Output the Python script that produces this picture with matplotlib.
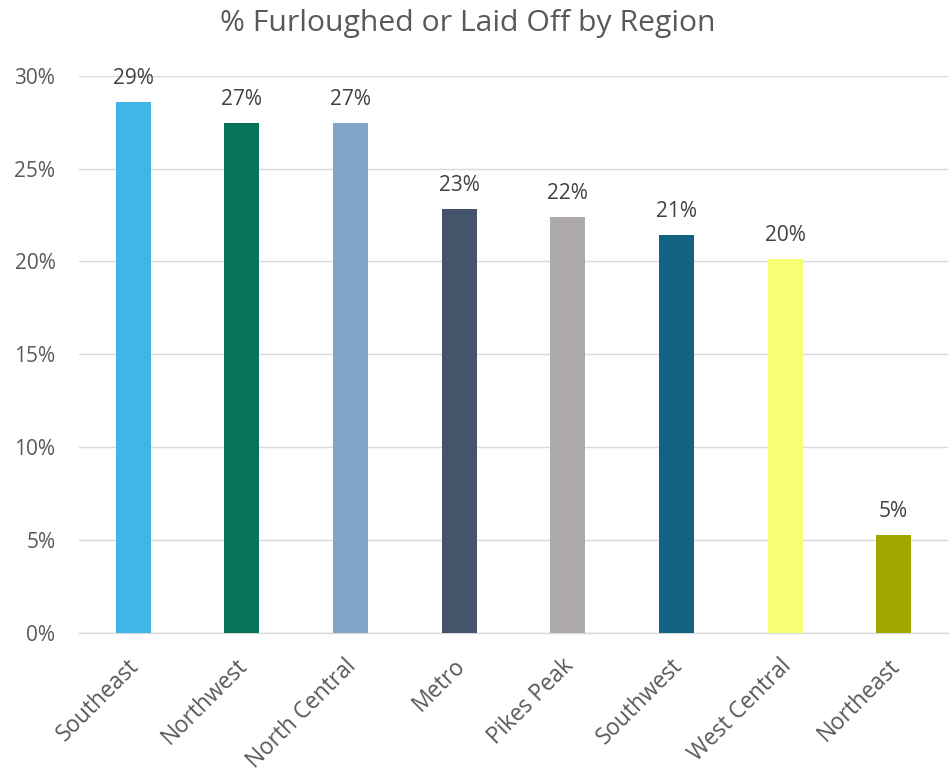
import matplotlib.pyplot as plt
import matplotlib.transforms as mtransforms
from matplotlib.ticker import FuncFormatter

regions = ["Southeast", "Northwest", "North Central", "Metro",
           "Pikes Peak", "Southwest", "West Central", "Northeast"]
pct = [28.6, 27.45, 27.45, 22.85, 22.4, 21.4, 20.15, 5.3]
colors = ["#41B6E6", "#07735B", "#7FA6C9", "#44546A",
          "#AEAAAA", "#136284", "#F7FF75", "#A0A800"]

plt.rcParams["font.family"] = ["Open Sans", "DejaVu Sans"]

fig = plt.figure(figsize=(9.51, 7.71), dpi=100)
ax = fig.add_axes([0.0831, 0.179, 0.9137, 0.7228])

x = range(len(regions))
bars = ax.bar(x, pct, width=0.322, color=colors, zorder=3)
for b, v in zip(bars, pct):
    ax.text(b.get_x() + b.get_width() / 2, v + 0.7, f"{round(v):.0f}%",
            ha="center", va="bottom", fontsize=15, color="#404040")

ax.set_xlim(-0.5, len(regions) - 0.5)
ax.set_ylim(0, 30)
ax.set_yticks(range(0, 31, 5))
ax.yaxis.set_major_formatter(FuncFormatter(lambda v, p: f"{v:.0f}%"))
ax.grid(axis="y", color="#D9D9D9", linewidth=1, zorder=0)
for s in ["top", "right", "left"]:
    ax.spines[s].set_visible(False)
ax.spines["bottom"].set_color("#D9D9D9")
ax.spines["bottom"].set_linewidth(1)
ax.tick_params(axis="both", length=0, colors="#595959", labelsize=15)
ax.tick_params(axis="y", pad=17)
ax.set_xticks(list(x))
ax.set_xticklabels(regions, rotation=45, ha="right", rotation_mode="anchor",
                   fontsize=16.3)
ax.tick_params(axis="x", pad=15)

# nudge rotated labels a little to the left, like the original
shift = mtransforms.ScaledTranslation(-6 / 100, 0, fig.dpi_scale_trans)
for lbl in ax.get_xticklabels():
    lbl.set_transform(lbl.get_transform() + shift)

fig.suptitle("% Furloughed or Laid Off by Region", x=0.492, y=0.988,
             fontsize=21.7, color="#595959")

fig.savefig("out.png", dpi=100)
